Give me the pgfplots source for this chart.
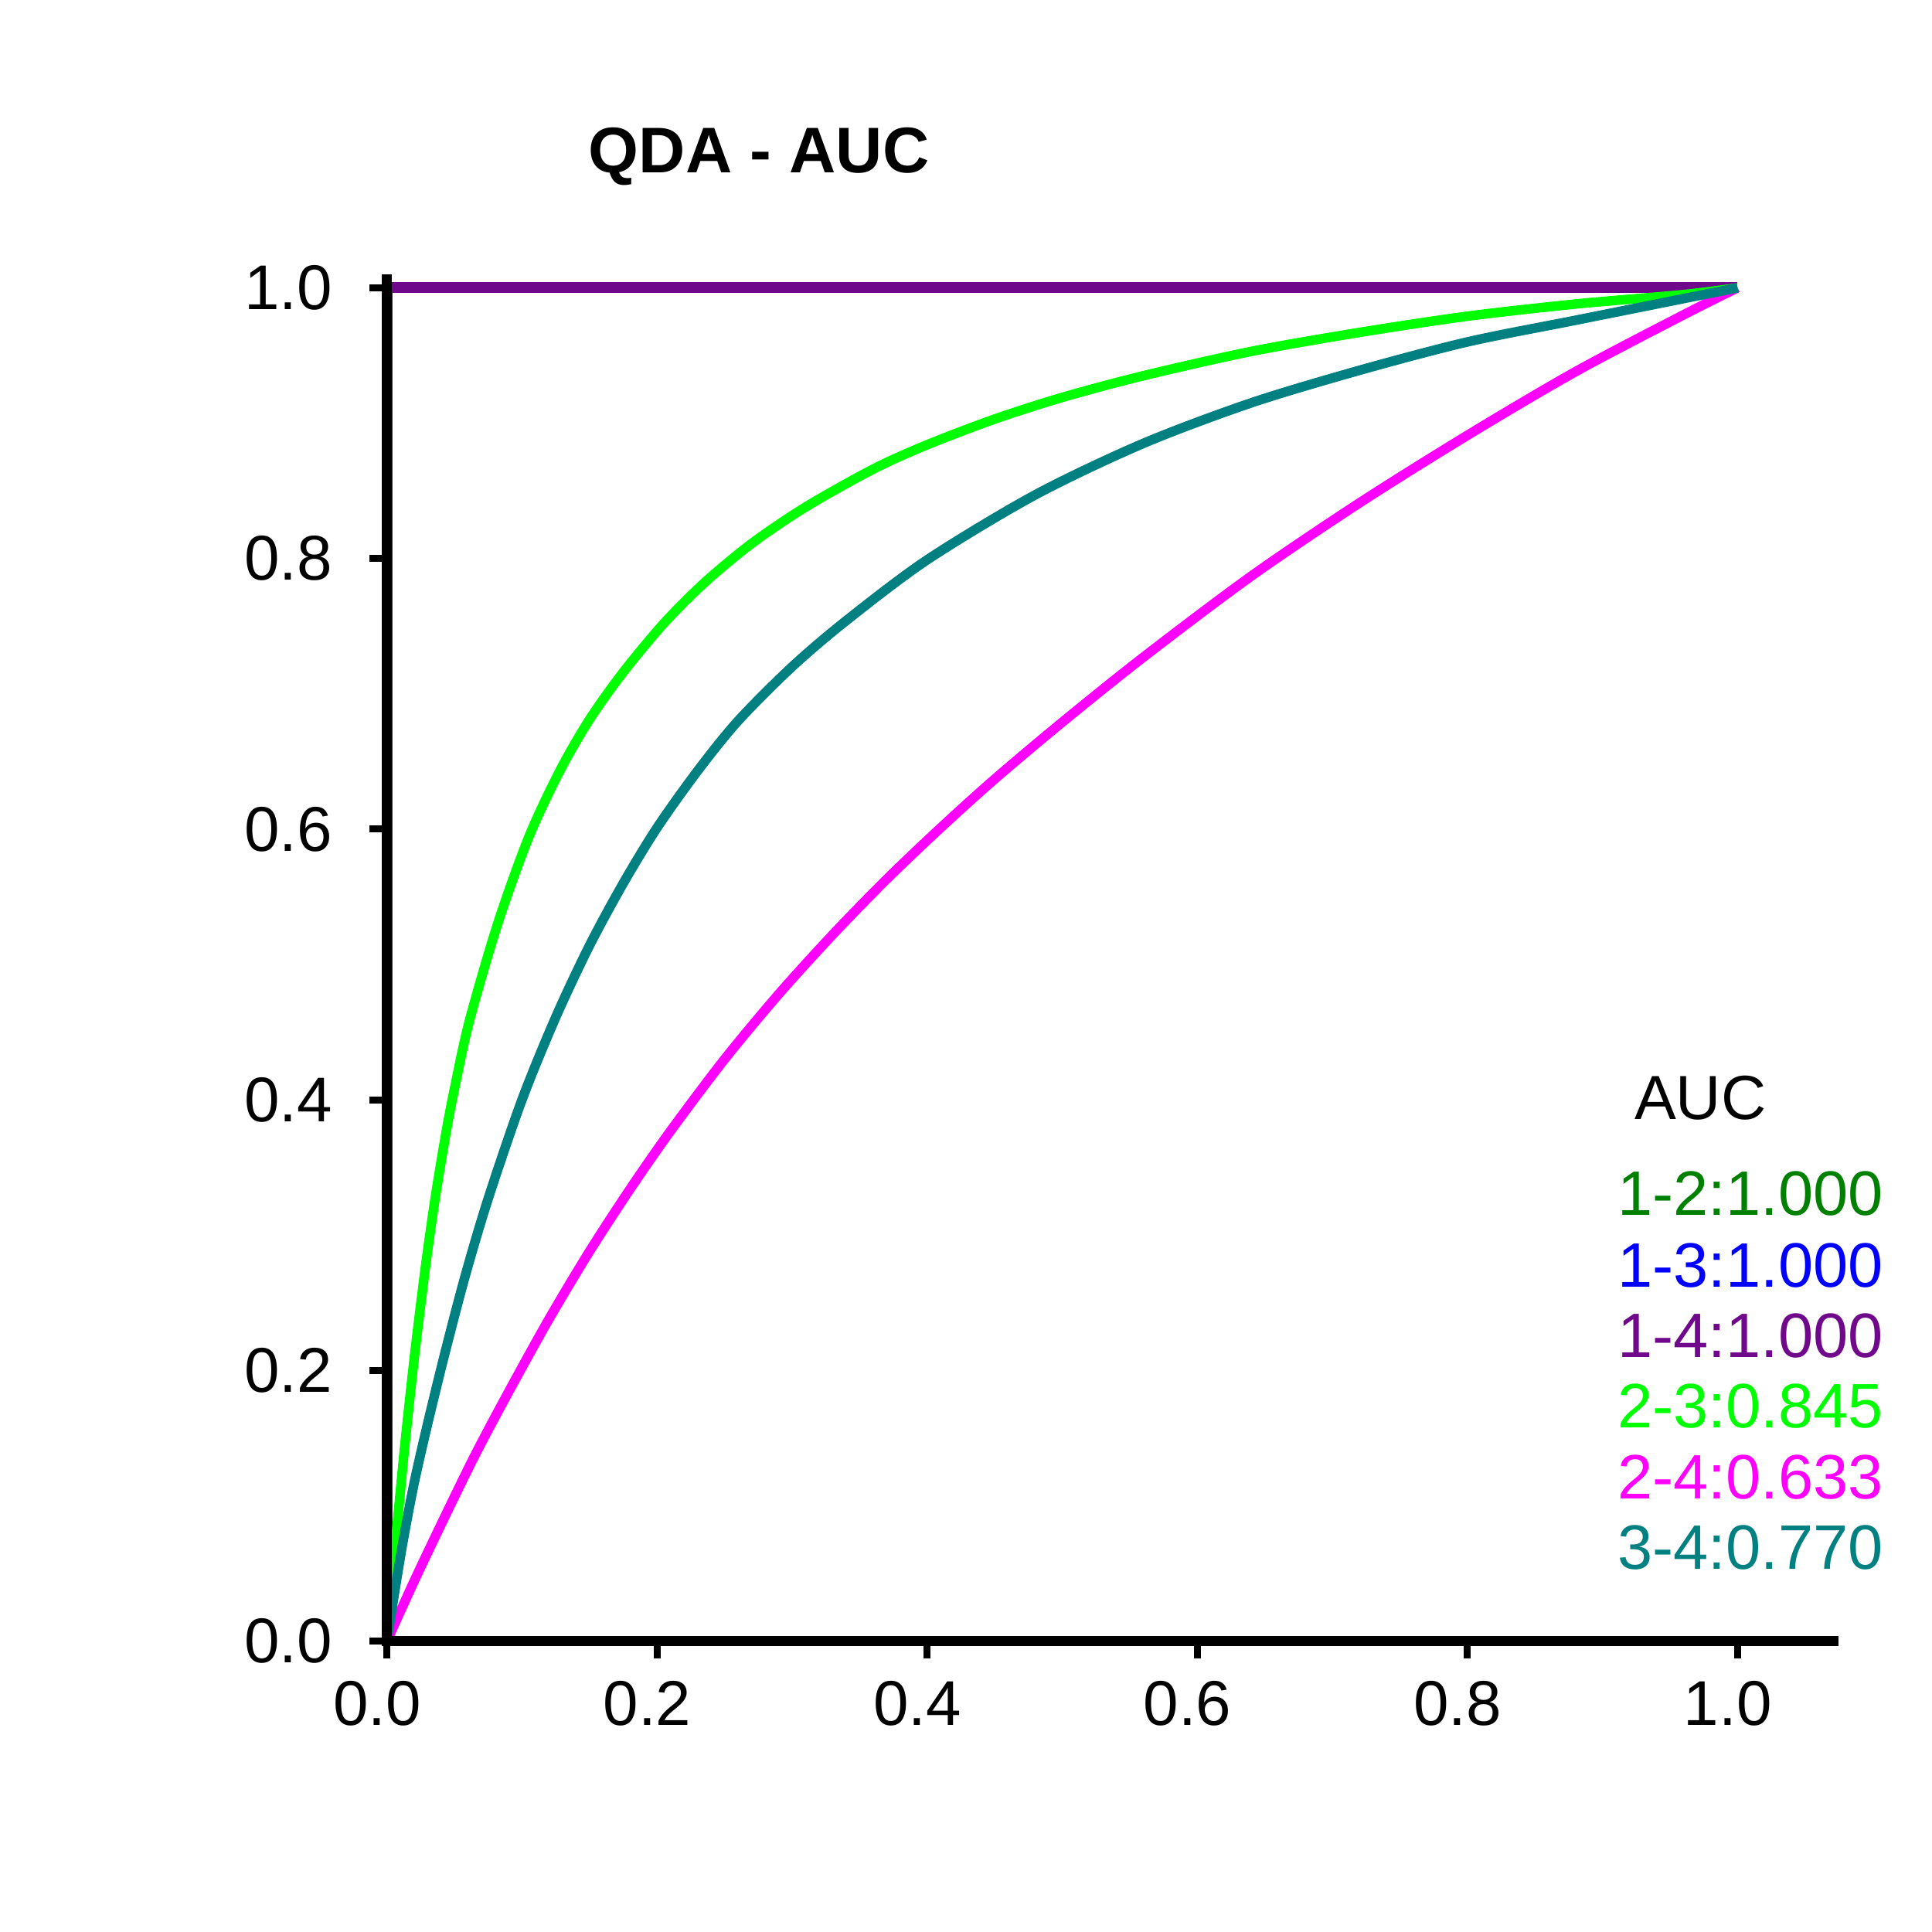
\documentclass[border=0pt]{standalone}
\usepackage{fontspec}
\setmainfont{Liberation Sans}
\usepackage{pgfplots}
\pgfplotsset{compat=1.18}
\definecolor{c12}{RGB}{0,128,0}
\definecolor{c13}{RGB}{0,0,255}
\definecolor{c14}{RGB}{112,8,140}
\definecolor{c23}{RGB}{0,255,0}
\definecolor{c24}{RGB}{255,0,255}
\definecolor{c34}{RGB}{0,128,128}

\begin{document}
\begin{tikzpicture}
\path[use as bounding box] (-3.14,-2.36) rectangle (12.54,13.32);
\begin{axis}[
  at={(0,0)}, anchor=south west,
  scale only axis, width=11.74cm, height=11.05cm,
  xmin=0, xmax=1.071, ymin=0, ymax=1.006,
  axis x line=bottom, axis y line=left,
  axis line style={-, line width=2.4pt, line cap=rect},
  axis on top, clip=false,
  xtick={0,0.2,0.4,0.6,0.8,1}, ytick={0,0.2,0.4,0.6,0.8,1},
  tick align=outside, major tick length=0.14cm,
  tick style={black, line width=1.6pt},
  /pgf/number format/.cd, fixed, fixed zerofill, precision=1, assume math mode=true,
  /pgfplots/.cd,
  tick label style={font=\fontsize{14.6}{17}\selectfont},
  xticklabel style={yshift=-0.06cm, xshift=-0.08cm},
  yticklabel style={xshift=-0.18cm},
]
% 1-2, 1-3, 1-4: perfect separation
\addplot[c12, line width=2.5pt] coordinates {(0,0)(0,1)(1,1)};
\addplot[c13, line width=2.5pt] coordinates {(0,0)(0,1)(1,1)};
\addplot[c14, line width=2.5pt] coordinates {(0,0)(0,1)(1,1)};
% 2-3
\addplot[c23, line width=2.2pt, smooth] coordinates {
(0,0)(0.004,0.046)(0.008,0.090)(0.013,0.142)(0.018,0.189)(0.022,0.224)(0.029,0.280)
(0.036,0.329)(0.044,0.377)(0.050,0.408)(0.061,0.458)(0.082,0.530)(0.105,0.594)
(0.128,0.643)(0.150,0.681)(0.175,0.716)(0.205,0.752)(0.235,0.782)(0.270,0.811)
(0.310,0.838)(0.360,0.866)(0.400,0.884)(0.450,0.903)(0.500,0.919)(0.560,0.935)
(0.640,0.953)(0.720,0.967)(0.800,0.979)(0.880,0.988)(0.960,0.995)(1,1)};
% 2-4
\addplot[c24, line width=2.2pt, smooth] coordinates {
(0,0)(0.02,0.044)(0.04,0.086)(0.065,0.137)(0.09,0.184)(0.12,0.238)(0.15,0.288)
(0.18,0.334)(0.21,0.377)(0.25,0.430)(0.29,0.478)(0.33,0.522)(0.37,0.563)(0.41,0.601)
(0.45,0.637)(0.50,0.679)(0.56,0.727)(0.64,0.787)(0.72,0.841)(0.80,0.891)(0.88,0.938)
(0.96,0.980)(1,1)};
% 3-4
\addplot[c34, line width=2.2pt, smooth] coordinates {
(0,0)(0.006,0.038)(0.012,0.074)(0.020,0.116)(0.030,0.160)(0.043,0.213)(0.058,0.270)
(0.075,0.327)(0.100,0.400)(0.125,0.461)(0.150,0.514)(0.175,0.560)(0.200,0.601)
(0.230,0.643)(0.260,0.680)(0.300,0.720)(0.340,0.754)(0.400,0.799)(0.480,0.847)
(0.560,0.885)(0.640,0.915)(0.720,0.939)(0.800,0.960)(0.880,0.976)(0.960,0.992)(1,1)};
\end{axis}
\node[font=\fontsize{14.9}{18}\selectfont\bfseries] at (3.02,12.05) {QDA - AUC};
\node[font=\fontsize{14.4}{17}\selectfont] at (10.66,4.41) {AUC};
\begin{scope}[every node/.style={anchor=east, inner sep=0pt, font=\fontsize{14.5}{17}\selectfont}]
\node[text=c12] at (12.15,3.63) {1-2:1.000};
\node[text=c13] at (12.15,3.05) {1-3:1.000};
\node[text=c14] at (12.15,2.48) {1-4:1.000};
\node[text=c23] at (12.15,1.91) {2-3:0.845};
\node[text=c24] at (12.15,1.33) {2-4:0.633};
\node[text=c34] at (12.15,0.76) {3-4:0.770};
\end{scope}
\end{tikzpicture}
\end{document}
